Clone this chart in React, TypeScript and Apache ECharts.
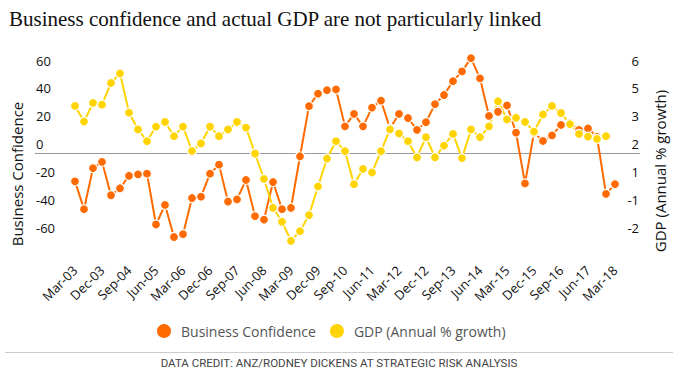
import React, { useEffect, useRef } from "react";
import * as echarts from "echarts";

const quarters = [
  "Mar-03","Jun-03","Sep-03","Dec-03","Mar-04","Jun-04","Sep-04","Dec-04",
  "Mar-05","Jun-05","Sep-05","Dec-05","Mar-06","Jun-06","Sep-06","Dec-06",
  "Mar-07","Jun-07","Sep-07","Dec-07","Mar-08","Jun-08","Sep-08","Dec-08",
  "Mar-09","Jun-09","Sep-09","Dec-09","Mar-10","Jun-10","Sep-10","Dec-10",
  "Mar-11","Jun-11","Sep-11","Dec-11","Mar-12","Jun-12","Sep-12","Dec-12",
  "Mar-13","Jun-13","Sep-13","Dec-13","Mar-14","Jun-14","Sep-14","Dec-14",
  "Mar-15","Jun-15","Sep-15","Dec-15","Mar-16","Jun-16","Sep-16","Dec-16",
  "Mar-17","Jun-17","Sep-17","Dec-17","Mar-18",
];

const businessConfidence = [
  -20, -40, -10.5, -6, -30, -25, -16, -15, -14.5, -51, -37, -60, -58, -32, -31, -14.5,
  -8, -34.5, -33, -19, -45, -47.5, -20.5, -40, -39, -2, 34, 43, 45.5, 46, 19.5, 28.5,
  19.5, 33, 38, 18, 28.5, 25.5, 17, 22.5, 35.5, 42, 52, 59, 68.5, 54, 27, 30,
  34.5, 15, -21.5, 15, 9, 13, 20.5, 22, 17, 18, 12, -29, -22,
];

const gdpGrowth = [
  4.28, 3.53, 4.42, 4.34, 5.38, 5.84, 3.96, 3.15, 2.59, 3.29, 3.51, 2.83, 3.29, 2.12, 2.48, 3.29,
  2.83, 3.15, 3.51, 3.24, 2.0, 0.78, -0.6, -1.27, -2.18, -1.72, -0.95, 0.42, 1.76, 2.59, 2.11, 0.53,
  1.26, 1.09, 2.11, 3.15, 2.96, 2.59, 1.81, 2.78, 1.82, 2.38, 2.94, 1.78, 3.15, 2.78, 3.3, 4.5,
  3.63, 3.71, 3.51, 3.05, 3.87, 4.28, 3.94, 3.41, 2.94, 2.81, 2.7, 2.83,
];

const labelEvery = 3;
const leftMin = -60;
const leftMax = 60;
const leftInterval = 20;
const rightMin = -2;
const rightMax = 6;
const rightTickCount = 7;

const ORANGE = "#ff6a00";
const YELLOW = "#ffd400";
const FONT = "'Open Sans', sans-serif";

export default function App() {
  const ref = useRef<HTMLDivElement>(null);

  useEffect(() => {
    if (!ref.current) return;
    const chart = echarts.init(ref.current, null, { renderer: "svg" });

    const xLabelValues = quarters.map((_, i) => i).filter((i) => i % labelEvery === 0);
    const rightTicks = Array.from({ length: rightTickCount }, (_, i) =>
      rightMin + (i * (rightMax - rightMin)) / (rightTickCount - 1)
    );

    const option: any = {
      animation: false,
      backgroundColor: "#fff",
      title: {
        text: "Business confidence and actual GDP are not particularly linked",
        left: 4,
        top: 3,
        textStyle: {
          fontFamily: "'Liberation Serif', serif",
          fontSize: 21,
          fontWeight: "normal",
          color: "#111",
        },
      },
      legend: {
        left: 150,
        top: 317,
        icon: "circle",
        itemWidth: 16,
        itemHeight: 16,
        itemGap: 12,
        textStyle: { fontFamily: FONT, fontSize: 14, color: "#555", padding: [0, 0, 0, 4] },
        data: ["Business Confidence", "GDP (Annual % growth)"],
      },
      grid: { left: 35, right: 38, top: 70, bottom: 134, containLabel: false },
      xAxis: {
        type: "value",
        min: -40 / 9,
        max: 60 + 25 / 9,
        splitLine: { show: false },
        axisLine: { show: false },
        axisTick: { show: false },
        axisLabel: {
          customValues: xLabelValues,
          formatter: (v: number) => quarters[Math.round(v)] ?? "",
          rotate: 45,
          margin: 31,
          fontFamily: FONT,
          fontSize: 13,
          color: "#111",
        },
      },
      yAxis: [
        {
          type: "value",
          min: leftMin,
          max: leftMax,
          interval: leftInterval,
          position: "left",
          splitLine: { show: false },
          axisLine: { show: false },
          axisTick: { show: false },
          axisLabel: {
            inside: true,
            margin: 1,
            verticalAlign: "bottom",
            padding: [0, 0, 3, 0],
            fontFamily: FONT,
            fontSize: 13,
            color: "#111",
          },
        },
        {
          type: "value",
          min: rightMin,
          max: rightMax,
          position: "right",
          splitLine: { show: false },
          axisLine: { show: false },
          axisTick: { show: false },
          axisLabel: {
            inside: true,
            margin: 1,
            customValues: rightTicks,
            formatter: (v: number) => String(Math.round(v)),
            verticalAlign: "bottom",
            padding: [0, 0, 3, 0],
            fontFamily: FONT,
            fontSize: 13,
            color: "#111",
          },
        },
      ],
      series: [
        {
          name: "Business Confidence",
          type: "line",
          yAxisIndex: 0,
          clip: false,
          data: businessConfidence.map((v, i) => [i, v]),
          symbol: "circle",
          symbolSize: 9,
          itemStyle: { color: ORANGE, borderColor: "#fff", borderWidth: 1.2 },
          lineStyle: { color: ORANGE, width: 2 },
          markLine: {
            silent: true,
            z: 1,
            symbol: ["none", "none"],
            label: { show: false },
            lineStyle: { color: "#999", type: "solid", width: 1 },
            emphasis: { disabled: true },
            data: [{ yAxis: 0 }],
          },
        },
        {
          name: "GDP (Annual % growth)",
          type: "line",
          yAxisIndex: 1,
          clip: false,
          data: gdpGrowth.map((v, i) => [i, v]),
          symbol: "circle",
          symbolSize: 9,
          itemStyle: { color: YELLOW, borderColor: "#fff", borderWidth: 1.2 },
          lineStyle: { color: YELLOW, width: 2 },
        },
      ],
      graphic: [
        {
          type: "text",
          x: 17,
          y: 174,
          rotation: Math.PI / 2,
          style: {
            text: "Business Confidence",
            fontFamily: FONT,
            fontSize: 15,
            fill: "#111",
            textAlign: "center",
            textVerticalAlign: "middle",
          },
        },
        {
          type: "text",
          x: 660,
          y: 171,
          rotation: Math.PI / 2,
          style: {
            text: "GDP (Annual % growth)",
            fontFamily: FONT,
            fontSize: 15,
            fill: "#111",
            textAlign: "center",
            textVerticalAlign: "middle",
          },
        },
        {
          type: "line",
          shape: { x1: 5, y1: 352.5, x2: 673, y2: 352.5 },
          style: { stroke: "#ccc", lineWidth: 1 },
        },
        {
          type: "text",
          x: 339,
          y: 363,
          style: {
            text: "DATA CREDIT: ANZ/RODNEY DICKENS AT STRATEGIC RISK ANALYSIS",
            fontFamily: "Roboto, sans-serif",
            fontSize: 11.5,
            fill: "#444",
            textAlign: "center",
            textVerticalAlign: "middle",
          },
        },
      ],
    };

    chart.setOption(option);
    return () => chart.dispose();
  }, []);

  return <div ref={ref} style={{ width: 678, height: 371, position: "absolute", left: 0, top: 0 }} />;
}
